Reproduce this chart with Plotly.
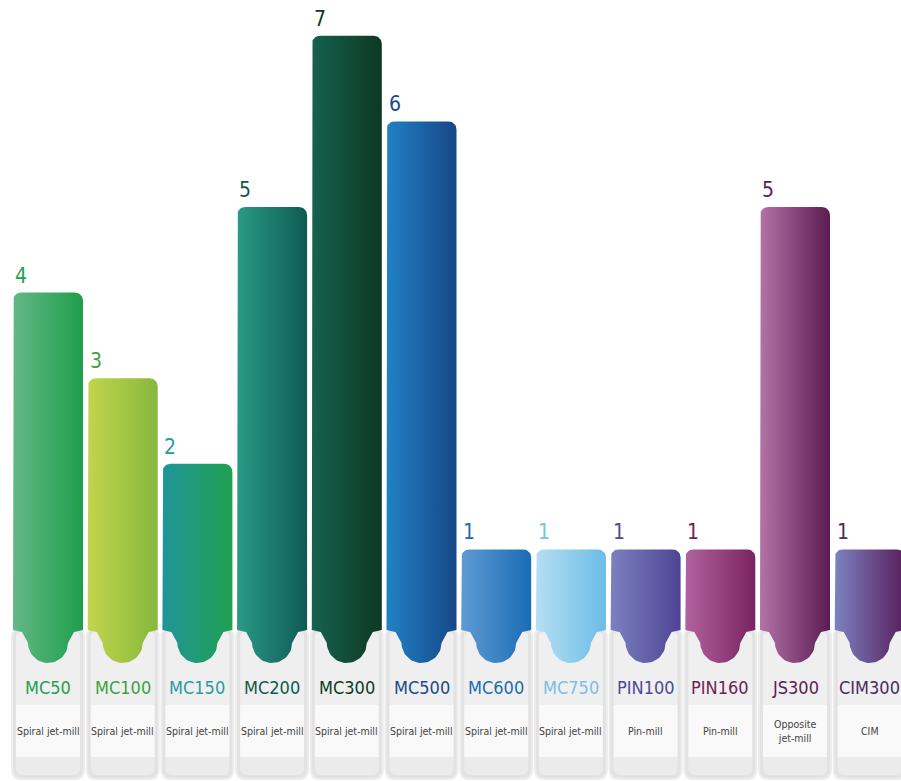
import plotly.graph_objects as go
import numpy as np

# ---------------- data ----------------
models = ["MC50", "MC100", "MC150", "MC200", "MC300", "MC500",
          "MC600", "MC750", "PIN100", "PIN160", "JS300", "CIM300"]
mill_types = ["Spiral jet-mill"] * 8 + ["Pin-mill", "Pin-mill", "Opposite<br>jet-mill", "CIM"]
counts = [4, 3, 2, 5, 7, 6, 1, 1, 1, 1, 5, 1]

grad_left = ["#63b885", "#c3d44c", "#1f9598", "#2a9a86", "#16614f", "#2181c5",
             "#5e9bd3", "#b6def3", "#7c80c0", "#b0639f", "#b473a7", "#7b83c1"]
grad_right = ["#1f9e4c", "#86b83d", "#21a052", "#0f5a52", "#0d3923", "#164786",
              "#1b6cb5", "#6bbde6", "#4d4494", "#7b2262", "#5b1c52", "#591e5c"]
label_colors = ["#23a052", "#3aa43e", "#2a9aa6", "#0e5a4c", "#0d3a28", "#1a4a88",
                "#1c6cb0", "#78c0e4", "#4e4a92", "#6e2254", "#5a2254", "#4c2a62"]

FONT = "DejaVu Sans Condensed, DejaVu Sans, sans-serif"

# ---------------- geometry (pixel scale) ----------------
W, H = 901, 781
PX_X = 74.7      # pixels per category step
X0 = 48          # pixel x of first category centre
PX_Y = 85.6      # pixels per unit of count
Y0 = 635         # pixel y of zero count
BAR_W = 70 / PX_X


def ypix(p):
    """absolute pixel row -> data y"""
    return (Y0 - p) / PX_Y


def dx(p):
    return p / PX_X


def dy(p):
    return p / PX_Y


fig = go.Figure()

# ---------------- cards (decoration under bars) ----------------
def rrect(x0, x1, ytop, ybot, rt, rb):
    """rounded rectangle path in data coords; radii in pixels"""
    yt, yb = ypix(ytop), ypix(ybot)
    rtx, rty, rbx, rby = dx(rt), dy(rt), dx(rb), dy(rb)
    return (f"M {x0},{yt - rty} Q {x0},{yt} {x0 + rtx},{yt} "
            f"L {x1 - rtx},{yt} Q {x1},{yt} {x1},{yt - rty} "
            f"L {x1},{yb + rby} Q {x1},{yb} {x1 - rbx},{yb} "
            f"L {x0 + rbx},{yb} Q {x0},{yb} {x0},{yb + rby} Z")


shapes = []
for i in range(len(models)):
    xl, xr = i - BAR_W / 2, i + BAR_W / 2
    # soft shadow
    shapes.append(dict(type="path", path=rrect(xl - dx(2), xr + dx(2), 629, 780, 7, 10),
                       fillcolor="rgba(0,0,0,0.07)", line=dict(width=0), layer="below"))
    # card body (edge tone)
    shapes.append(dict(type="path", path=rrect(xl, xr, 630, 778, 6, 9),
                       fillcolor="#e2e2e2", line=dict(width=0), layer="below"))
    # top section
    shapes.append(dict(type="path", path=rrect(xl + dx(3), xr - dx(3), 632, 705, 5, 0),
                       fillcolor="#efefef", line=dict(width=0), layer="below"))
    # middle section
    shapes.append(dict(type="path", path=rrect(xl + dx(3), xr - dx(3), 705, 757, 0, 0),
                       fillcolor="#f9f9f9", line=dict(width=0), layer="below"))
    # bottom section
    shapes.append(dict(type="path", path=rrect(xl + dx(3), xr - dx(3), 757, 775, 0, 7),
                       fillcolor="#ebebeb", line=dict(width=0), layer="below"))

# ---------------- bars (gradient filled polygons) ----------------
for i, v in enumerate(counts):
    xl, xr = i - BAR_W / 2, i + BAR_W / 2
    rx, ry = dx(8), dy(8)
    xs, ys = [xl], [ypix(630)]
    t = np.linspace(np.pi, np.pi / 2, 12)
    xs += list(xl + rx + rx * np.cos(t)); ys += list(v - ry + ry * np.sin(t))
    t = np.linspace(np.pi / 2, 0, 12)
    xs += list(xr - rx + rx * np.cos(t)); ys += list(v - ry + ry * np.sin(t))
    xs.append(xr); ys.append(ypix(630))
    # tongue into the card
    tr, tyr = dx(20), dy(20)
    xs.append(i + dx(26)); ys.append(ypix(632))
    xs.append(i + tr); ys.append(ypix(643))
    t = np.linspace(0, -np.pi, 30)
    xs += list(i + tr * np.cos(t)); ys += list(ypix(643) + tyr * np.sin(t))
    xs.append(i - dx(26)); ys.append(ypix(632))
    xs.append(xl); ys.append(ypix(630))
    fig.add_trace(go.Scatter(
        x=xs, y=ys, mode="lines", fill="toself", line=dict(width=0),
        fillgradient=dict(type="horizontal",
                          colorscale=[[0, grad_left[i]], [1, grad_right[i]]]),
        hoverinfo="skip", showlegend=False))

# ---------------- text ----------------
annotations = []
for i, (m, t, v) in enumerate(zip(models, mill_types, counts)):
    xl = i - BAR_W / 2
    annotations.append(dict(x=xl, y=v, xref="x", yref="y", text=str(v),
                            xanchor="left", yanchor="bottom", yshift=3, showarrow=False,
                            font=dict(family=FONT, size=21, color=label_colors[i])))
    annotations.append(dict(x=i, y=ypix(687), xref="x", yref="y", text=m,
                            xanchor="center", yanchor="middle", showarrow=False,
                            font=dict(family=FONT, size=18, color=label_colors[i])))
    annotations.append(dict(x=i, y=ypix(731), xref="x", yref="y", text=t,
                            xanchor="center", yanchor="middle", showarrow=False,
                            font=dict(family=FONT, size=10.5, color="#444444")))

fig.update_layout(
    width=W, height=H,
    margin=dict(l=0, r=0, t=0, b=0),
    paper_bgcolor="white", plot_bgcolor="white",
    xaxis=dict(range=[(0 - X0) / PX_X, (W - X0) / PX_X], visible=False, fixedrange=True),
    yaxis=dict(range=[(Y0 - H) / PX_Y, Y0 / PX_Y], visible=False, fixedrange=True),
    shapes=shapes, annotations=annotations, showlegend=False,
)

fig.write_html("out.html")
